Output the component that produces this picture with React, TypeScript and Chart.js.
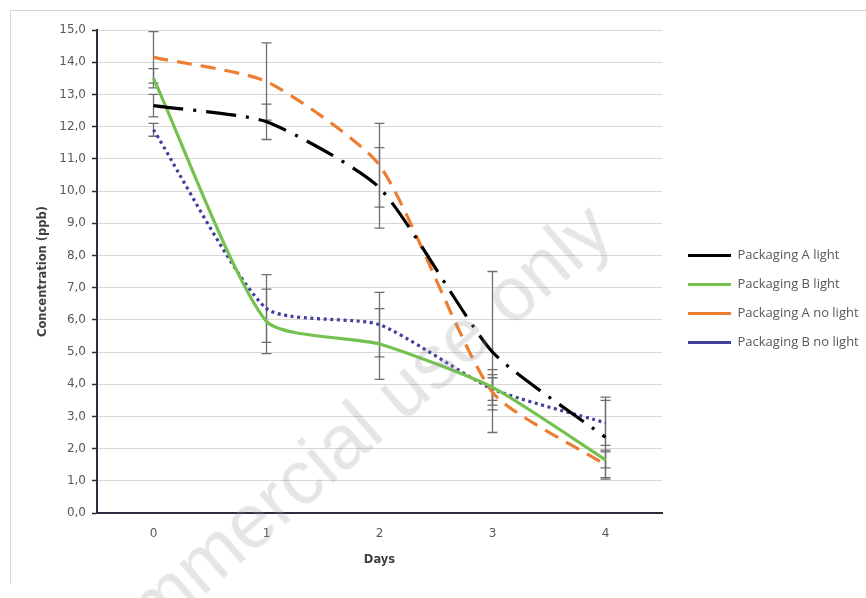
import React, { useEffect, useRef } from "react";
import { Chart, registerables } from "chart.js";

Chart.register(...registerables);

// ---- data ----
const days = ["0", "1", "2", "3", "4"];
const seriesNames = [
  "Packaging A light",
  "Packaging B light",
  "Packaging A no light",
  "Packaging B no light",
];
const aLight = [12.65, 12.15, 10.1, 5.0, 2.35];
const bLight = [13.5, 5.95, 5.25, 3.9, 1.65];
const aNoLight = [14.15, 13.4, 10.8, 3.75, 1.5];
const bNoLight = [11.9, 6.35, 5.85, 3.85, 2.8];

const aLightErr = [0.35, 0.55, 1.25, 2.5, 1.25];
const bLightErr = [0.3, 1.0, 1.1, 0.55, 0.25];
const aNoLightErr = [0.8, 1.2, 1.3, 0.55, 0.45];
const bNoLightErr = [0.2, 1.05, 1.0, 0.35, 0.7];

const yMin = 0;
const yMax = 15;
const yStep = 1;

const errors = [aLightErr, bLightErr, aNoLightErr, bNoLightErr];

const W = 960;
const H = 598;
const LEGEND_FONT = { family: "'Open Sans', sans-serif", size: 13 };
const LEGEND_PAD = 16;
const LEGEND_LINE_START = 688;
const PLOT_RIGHT = 662;

const errorBarPlugin = {
  id: "errorBars",
  beforeDatasetsDraw(chart: any) {
    const { ctx } = chart;
    const x = chart.scales.x;
    const y = chart.scales.y;
    ctx.save();
    ctx.strokeStyle = "#6e6e6e";
    ctx.lineWidth = 1.3;
    chart.data.datasets.forEach((ds: any, di: number) => {
      const errs = errors[di];
      ds.data.forEach((v: number, i: number) => {
        const px = x.getPixelForValue(i);
        const top = y.getPixelForValue(v + errs[i]);
        const bot = y.getPixelForValue(v - errs[i]);
        ctx.beginPath();
        ctx.moveTo(px, top);
        ctx.lineTo(px, bot);
        ctx.moveTo(px - 5, top);
        ctx.lineTo(px + 5, top);
        ctx.moveTo(px - 5, bot);
        ctx.lineTo(px + 5, bot);
        ctx.stroke();
      });
    });
    ctx.restore();
  },
};

export default function App() {
  const ref = useRef<HTMLCanvasElement | null>(null);

  useEffect(() => {
    if (!ref.current) return;
    const TENSION = 0.2;
    const chart = new Chart(ref.current, {
      type: "line",
      data: {
        labels: days,
        datasets: [
          {
            label: seriesNames[0],
            data: aLight,
            borderColor: "#000000",
            backgroundColor: "#000000",
            borderWidth: 3.2,
            borderDash: [30, 10, 3, 10],
            pointRadius: 0,
            tension: TENSION,
          },
          {
            label: seriesNames[1],
            data: bLight,
            borderColor: "#74c150",
            backgroundColor: "#74c150",
            borderWidth: 3.2,
            pointRadius: 0,
            tension: TENSION,
          },
          {
            label: seriesNames[2],
            data: aNoLight,
            borderColor: "#ed7d31",
            backgroundColor: "#ed7d31",
            borderWidth: 3.2,
            borderDash: [15, 9],
            pointRadius: 0,
            tension: TENSION,
          },
          {
            label: seriesNames[3],
            data: bNoLight,
            borderColor: "#403f9c",
            backgroundColor: "#403f9c",
            borderWidth: 3.2,
            borderDash: [3, 3.6],
            pointRadius: 0,
            tension: TENSION,
          },
        ],
      },
      options: {
        animation: false,
        responsive: true,
        maintainAspectRatio: false,
        layout: { padding: { left: 0, top: 30, right: 40, bottom: 30 } },
        plugins: {
          legend: {
            position: "right",
            align: "center",
            maxWidth: 400,
            labels: {
              usePointStyle: true,
              pointStyle: "line",
              pointStyleWidth: 43,
              boxWidth: 43,
              padding: LEGEND_PAD,
              color: "#595959",
              font: LEGEND_FONT,
            },
          },
          tooltip: { enabled: false },
        },
        scales: {
          x: {
            type: "category",
            offset: true,
            grid: { display: false },
            border: { display: true, color: "#2c2c3c", width: 2 },
            ticks: {
              color: "#595959",
              padding: 6,
              font: { family: "'DejaVu Sans', sans-serif", size: 12 },
            },
            title: {
              display: true,
              text: "Days",
              color: "#404040",
              font: { family: "'DejaVu Sans', sans-serif", size: 11.5, weight: "bold" },
              padding: { top: 0, bottom: 1 },
            },
            afterFit(s: any) {
              s.height = 55;
            },
          },
          y: {
            type: "linear",
            min: yMin,
            max: yMax,
            grid: {
              color: "#dad6d6",
              lineWidth: 1,
              tickColor: "#2c2c3c",
              tickLength: 5,
              tickWidth: 1.5,
            },
            border: { display: true, color: "#2c2c3c", width: 2 },
            ticks: {
              stepSize: yStep,
              color: "#595959",
              padding: 6,
              font: { family: "'DejaVu Sans', sans-serif", size: 12 },
              callback: (v: any) => Number(v).toFixed(1).replace(".", ","),
            },
            title: {
              display: true,
              text: "Concentration (ppb)",
              color: "#404040",
              font: { family: "'DejaVu Sans', sans-serif", size: 11.5, weight: "bold" },
              padding: { top: 36, bottom: 0 },
            },
            afterFit(s: any) {
              s.width = 97;
            },
          },
          gap: {
            type: "linear",
            position: "right",
            display: true,
            grid: { display: false },
            border: { display: false },
            ticks: { display: false },
            afterFit(s: any) {
              s.width = LEGEND_LINE_START - LEGEND_PAD - PLOT_RIGHT;
            },
          },
        },
      },
      plugins: [errorBarPlugin],
    } as any);

    // anchor legend so its sample lines start where the reference has them
    for (let k = 0; k < 3; k++) {
      const lg: any = (chart as any).legend;
      if (!lg) break;
      const diff = lg.left + LEGEND_PAD - LEGEND_LINE_START;
      if (Math.abs(diff) < 0.5) break;
      const pad: any = (chart.options as any).layout.padding;
      pad.right = Math.max(0, pad.right + diff);
      chart.update();
    }
    return () => chart.destroy();
  }, []);

  return (
    <div
      style={{
        position: "fixed",
        left: 0,
        top: 0,
        width: 866,
        height: 598,
        overflow: "hidden",
        background: "#ffffff",
      }}
    >
      <div
        style={{
          position: "absolute",
          left: 10,
          top: 10,
          width: 900,
          height: 573,
          borderTop: "1px solid #d6d6d6",
          borderLeft: "1px solid #d6d6d6",
        }}
      />
      <div style={{ position: "absolute", left: 0, top: 0, width: W, height: H }}>
        <canvas ref={ref} />
      </div>
      <div
        style={{
          position: "absolute",
          left: 624,
          top: 246,
          width: 0,
          height: 0,
          transform: "rotate(-41deg)",
          transformOrigin: "0 0",
          pointerEvents: "none",
        }}
      >
        <span
          style={{
            position: "absolute",
            right: 0,
            bottom: 0,
            whiteSpace: "nowrap",
            fontFamily: "'Liberation Sans', sans-serif",
            fontSize: 76,
            lineHeight: 1,
            color: "rgba(150,150,150,0.25)",
          }}
        >
          Non-commercial use only
        </span>
      </div>
    </div>
  );
}
